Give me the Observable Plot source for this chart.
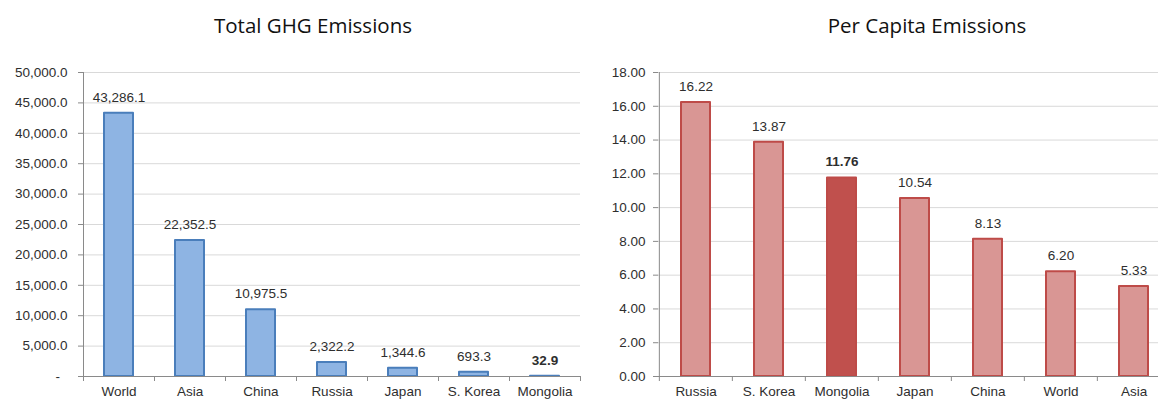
<!DOCTYPE html>
<html><head><meta charset="utf-8">
<script src="https://cdn.jsdelivr.net/npm/d3@7"></script>
<script src="https://cdn.jsdelivr.net/npm/@observablehq/plot@0.6"></script>
<style>
body{margin:0;width:1158px;height:399px;overflow:hidden;position:relative;background:#fff;font-family:"Liberation Sans",Arial,sans-serif}
.title{position:absolute;top:10px;width:400px;text-align:center;font-family:"Open Sans",sans-serif;font-size:20.5px;color:#111;line-height:30px}
#left{position:absolute;left:0;top:50px;width:594px}
#right{position:absolute;left:594px;top:50px;width:577px}
svg{max-width:none !important}
svg text{fill:#2e2e2e}
</style></head><body>
<div class="title" style="left:113px">Total GHG Emissions</div>
<div class="title" style="left:727px">Per Capita Emissions</div>
<div id="left"></div><div id="right"></div>
<script>
const totalCategories = ["World", "Asia", "China", "Russia", "Japan", "S. Korea", "Mongolia"];
const totalValues = [43286.1, 22352.5, 10975.5, 2322.2, 1344.6, 693.3, 32.9];
const totalTicks = [0, 5000, 10000, 15000, 20000, 25000, 30000, 35000, 40000, 45000, 50000];
const perCapitaCategories = ["Russia", "S. Korea", "Mongolia", "Japan", "China", "World", "Asia"];
const perCapitaValues = [16.22, 13.87, 11.76, 10.54, 8.13, 6.20, 5.33];
const perCapitaTicks = [0, 2, 4, 6, 8, 10, 12, 14, 16, 18];
const highlighted = "Mongolia";

function chart(o) {
  const height = 349, marginTop = 22, marginBottom = 23;
  const band = (o.width - o.marginLeft - o.marginRight) / o.categories.length;
  const data = o.categories.map((name, i) => ({name, value: o.values[i]}));
  const last = o.categories[o.categories.length - 1];
  const lblOpts = {x: "name", y: "value", text: d => o.labelFormat(d.value), dy: -16, fontSize: 13.5};
  return Plot.plot({
    width: o.width, height, marginTop, marginBottom, marginLeft: o.marginLeft, marginRight: o.marginRight,
    style: {fontFamily: "Liberation Sans, Arial, sans-serif", fontSize: "13.5px", color: "#8a8a8a", background: "#fff", overflow: "visible", maxWidth: "none"},
    x: {domain: o.categories, padding: 0, tickSize: 0, tickPadding: 10, label: null},
    y: {domain: [0, o.ticks[o.ticks.length - 1]], ticks: o.ticks, tickFormat: o.tickFormat, tickSize: 5, tickPadding: o.tickPadding, label: null},
    color: {type: "identity"},
    marks: [
      Plot.ruleY(o.ticks.slice(1), {stroke: "#d9d9d9"}),
      Plot.barY(data, {x: "name", y: "value",
        fill: d => (d.name === highlighted && o.highlightFill) ? o.highlightFill : o.fill,
        stroke: o.stroke, strokeWidth: 2, strokeLinejoin: "round", insetLeft: o.inset, insetRight: o.inset}),
      Plot.ruleY([0], {stroke: "#8a8a8a"}),
      Plot.ruleX([o.categories[0]], {x: d => d, dx: -band / 2, stroke: "#8a8a8a"}),
      Plot.ruleX(o.categories, {x: d => d, dx: -band / 2, y1: 0, y2: 0, insetBottom: -5, stroke: "#8a8a8a"}),
      Plot.ruleX([last], {x: d => d, dx: band / 2, y1: 0, y2: 0, insetBottom: -5, stroke: "#8a8a8a"}),
      Plot.text(data.filter(d => d.name !== highlighted), lblOpts),
      Plot.text(data.filter(d => d.name === highlighted), {...lblOpts, fontWeight: "bold"})
    ]
  });
}

document.getElementById("left").append(chart({
  categories: totalCategories, values: totalValues, ticks: totalTicks,
  tickFormat: d => d === 0 ? "-\u00a0\u00a0" : d3.format(",.1f")(d),
  labelFormat: d3.format(",.1f"),
  width: 594, marginLeft: 83, marginRight: 14, tickPadding: 11, inset: 21,
  fill: "#8eb4e3", stroke: "#4a7ebb", highlightFill: null
}));
document.getElementById("right").append(chart({
  categories: perCapitaCategories, values: perCapitaValues, ticks: perCapitaTicks,
  tickFormat: d3.format(".2f"),
  labelFormat: d3.format(".2f"),
  width: 577, marginLeft: 64, marginRight: 0, tickPadding: 8, inset: 22,
  fill: "#d99694", stroke: "#be4b48", highlightFill: "#c0504d"
}));
</script>
</body></html>
